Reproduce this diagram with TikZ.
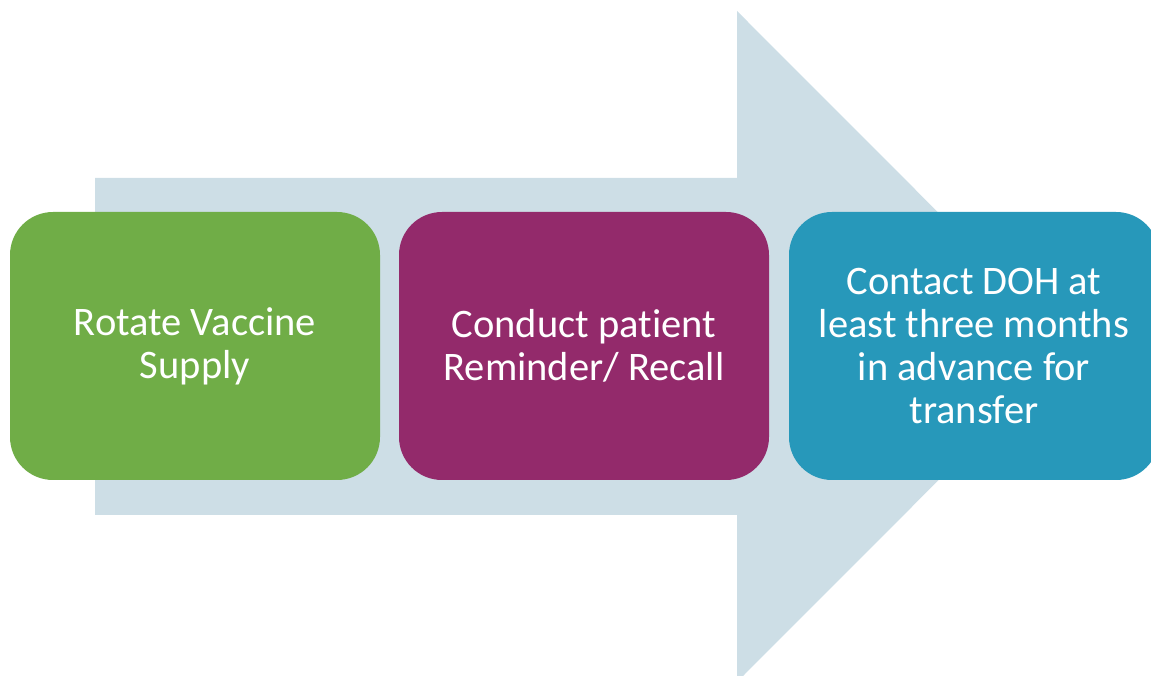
\documentclass[tikz,border=0pt]{standalone}
\usepackage{fontspec}
\setmainfont{Carlito}[Ligatures=NoCommon]
\definecolor{arrowbg}{HTML}{CDDEE6}
\definecolor{boxgreen}{HTML}{70AD47}
\definecolor{boxpurple}{HTML}{932A6B}
\definecolor{boxblue}{HTML}{2798BA}
\tikzset{
  stepbox/.style={draw=none, rounded corners=43pt, minimum width=370pt, minimum height=268pt,
    inner sep=0pt, align=center, text=white, font=\fontsize{40.5}{43.3}\selectfont}
}
\begin{document}
\begin{tikzpicture}[x=1pt,y=1pt]
\useasboundingbox (0,0) rectangle (1151,675);
\clip (0,0) rectangle (1151,675);
\fill[arrowbg] (95,497) -- (737,497) -- (737,664) -- (1072,328.5) -- (737,-7) -- (737,160) -- (95,160) -- cycle;
\node[stepbox, fill=boxgreen] (n1) at (195,329) {Rotate Vaccine\\Supply};
\node[stepbox, fill=boxpurple] (n2) at (584,329) {Conduct patient\\Reminder/ Recall};
\node[stepbox, fill=boxblue] (n3) at (974,329) {Contact DOH at\\least three months\\in advance for\\transfer};
\end{tikzpicture}
\end{document}
